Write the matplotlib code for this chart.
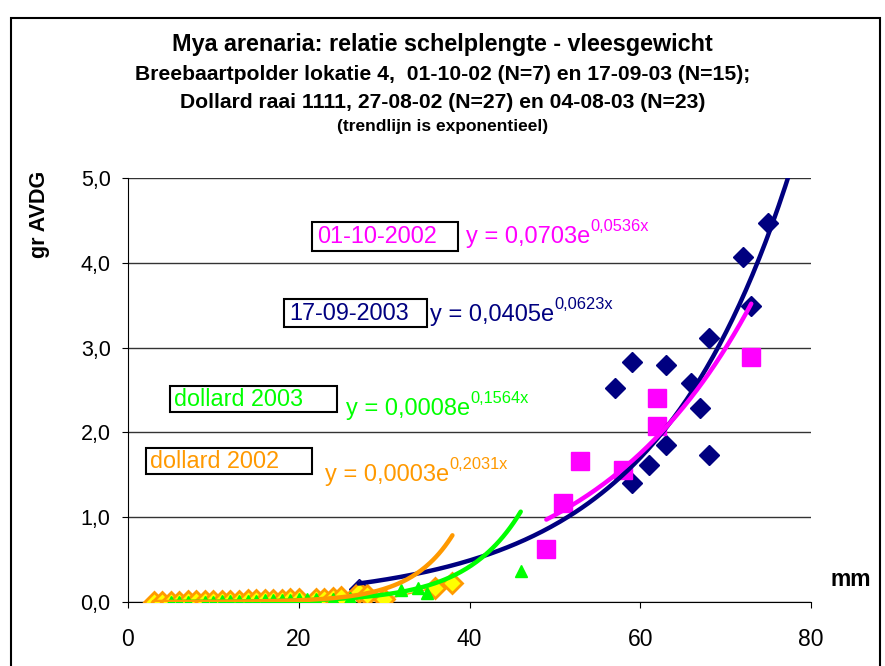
import numpy as np
import matplotlib
matplotlib.use("Agg")
import matplotlib.pyplot as plt
from matplotlib.patches import Rectangle

plt.rcParams["font.family"] = ["Liberation Sans", "DejaVu Sans"]

# 17-09-2003 Breebaartpolder (navy diamonds)
x_0903 = [27, 57, 59, 59, 61, 63, 63, 66, 67, 68, 68, 72, 73, 75]
y_0903 = [0.15, 2.52, 2.83, 1.40, 1.62, 2.79, 1.85, 2.58, 2.29, 3.11, 1.73, 4.07, 3.49, 4.47]
# 01-10-2002 Breebaartpolder (magenta squares)
x_1002 = [49, 51, 53, 58, 62, 62, 73]
y_1002 = [0.62, 1.17, 1.66, 1.56, 2.07, 2.40, 2.89]
# dollard 2003 (green triangles)
x_d03 = [5, 6, 7, 9, 10, 11, 12, 13, 14, 15, 16, 17, 18, 19, 20, 21, 22, 24, 26, 32, 34, 35, 46]
y_d03 = [0.0, 0.0, 0.0, 0.0, 0.0, 0.01, 0.01, 0.01, 0.01, 0.01, 0.02, 0.02, 0.02, 0.02, 0.03,
         0.03, 0.03, 0.04, 0.05, 0.14, 0.17, 0.11, 0.37]
# dollard 2002 (orange diamonds)
x_d02 = [3, 4, 5, 6, 7, 8, 9, 10, 11, 12, 13, 14, 15, 16, 17, 18, 19, 20, 22, 23, 24, 25, 27, 28, 30, 36, 38]
y_d02 = [0.0, 0.0, 0.0, 0.0, 0.01, 0.01, 0.01, 0.01, 0.01, 0.01, 0.01, 0.02, 0.02, 0.02, 0.02,
         0.02, 0.03, 0.03, 0.04, 0.04, 0.05, 0.06, 0.12, 0.08, 0.03, 0.17, 0.22]

# exponential trendlines y = a*exp(b*x): (a, b, x start, x end)
trend_0903 = (0.0405, 0.0623, 27, 78)
trend_1002 = (0.0703, 0.0536, 49, 73)
trend_d03 = (0.0008, 0.1564, 5, 46)
trend_d02 = (0.00035, 0.2031, 3, 38)

navy = "#000080"
magenta = "#FF00FF"
green = "#00FF00"
orange = "#FF9900"

fig = plt.figure(figsize=(8.85, 6.66), dpi=100)
ax = fig.add_axes([128 / 885, 64 / 666, 683 / 885, 424 / 666])

ax.plot(x_0903, y_0903, "D", color=navy, ms=10, zorder=3)
ax.plot(x_1002, y_1002, "s", color=magenta, ms=12.5, zorder=3)
ax.plot(x_d02, y_d02, "-D", color=orange, lw=1, mfc="#FFFF00", mec=orange, mew=2, ms=10, zorder=3)
ax.plot(x_d03, y_d03, "^", color=green, ms=8.5, zorder=3)

for (a, b, x0, x1), c in [(trend_0903, navy), (trend_1002, magenta), (trend_d03, green), (trend_d02, orange)]:
    xs = np.linspace(x0, x1, 200)
    ax.plot(xs, a * np.exp(b * xs), color=c, lw=3.2, zorder=4, solid_capstyle="round")

ax.set_xlim(0, 80)
ax.set_ylim(0, 5)
ax.set_xticks([0, 20, 40, 60, 80])
ax.set_yticks([0, 1, 2, 3, 4, 5])
ax.set_yticklabels(["0,0", "1,0", "2,0", "3,0", "4,0", "5,0"])
ax.tick_params(axis="x", direction="out", length=4.5, pad=14, labelsize=16.5)
ax.tick_params(axis="y", direction="out", length=4.5, pad=8, labelsize=15.5)
ax.grid(axis="y", color="#333333", lw=1)
ax.spines["top"].set_visible(False)
ax.spines["right"].set_visible(False)
ax.set_axisbelow(True)


def px(x, y):
    return (x - 128) / 683 * 80, (602 - y) / 424 * 5


def label_box(text, color, x0, y0, x1, y1, tx, eq, sup, ex, ey):
    bx, by = px(x0, y1)
    bx1, by1 = px(x1, y0)
    ax.add_patch(Rectangle((bx, by), bx1 - bx, by1 - by, fill=False, ec="black", lw=1.5, zorder=5))
    lx, ly = px(tx, (y0 + y1) / 2)
    ax.text(lx, ly, text, color=color, fontsize=16.8, va="center", ha="left", zorder=6)
    exx, eyy = px(ex, ey)
    t = ax.text(exx, eyy, eq, color=color, fontsize=17, va="center", ha="left", zorder=6)
    ax.annotate(sup, xy=(1, 0.62), xycoords=t, color=color, fontsize=11.8, va="bottom", ha="left")


label_box("01-10-2002", magenta, 312, 222, 458, 251, 317, "y = 0,0703e", "0,0536x", 466, 237)
label_box("17-09-2003", navy, 284, 299, 427, 327, 289, "y = 0,0405e", "0,0623x", 430, 315)
label_box("dollard 2003", green, 170, 386, 337, 412, 174, "y = 0,0008e", "0,1564x", 346, 409)
label_box("dollard 2002", orange, 146, 448, 312, 474, 150, "y = 0,0003e", "0,2031x", 325, 475)

fig.text(0.5, 1 - 45 / 666, "Mya arenaria: relatie schelplengte - vleesgewicht",
         ha="center", va="center", fontsize=16.8, fontweight="bold")
fig.text(0.5, 1 - 75 / 666, "Breebaartpolder lokatie 4,  01-10-02 (N=7) en 17-09-03 (N=15);",
         ha="center", va="center", fontsize=15.2, fontweight="bold")
fig.text(0.5, 1 - 103 / 666, "Dollard raai 1111, 27-08-02 (N=27) en 04-08-03 (N=23)",
         ha="center", va="center", fontsize=15.2, fontweight="bold")
fig.text(0.5, 1 - 127 / 666, "(trendlijn is exponentieel)",
         ha="center", va="center", fontsize=12.5, fontweight="bold")
fig.text(40 / 885, 1 - 214 / 666, "gr AVDG", rotation=90, ha="center", va="center",
         fontsize=15.5, fontweight="bold")
fig.text(851 / 885, 1 - 580 / 666, "mm", ha="center", va="center", fontsize=16.5, fontweight="bold")

fig.patches.append(Rectangle((11 / 885, -0.1), 869 / 885, 1.1 - 18 / 666, transform=fig.transFigure,
                             fill=False, ec="black", lw=1.5))

fig.savefig("out.png", dpi=100)
